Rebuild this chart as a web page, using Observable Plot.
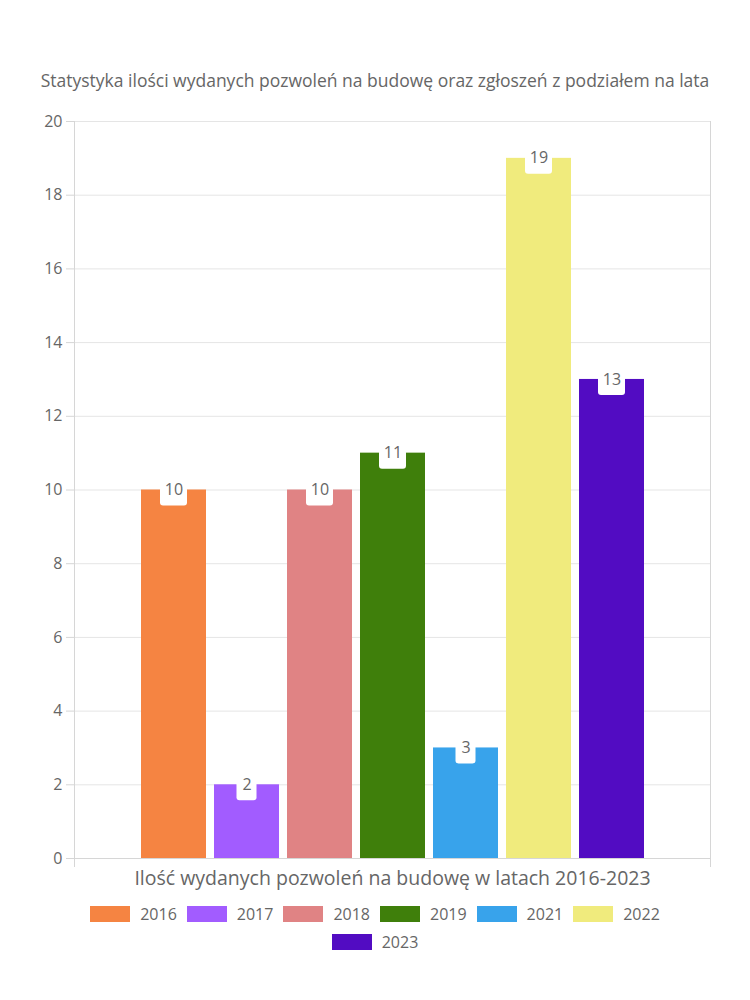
<!DOCTYPE html>
<html>
<head>
<meta charset="utf-8">
<script src="https://cdn.jsdelivr.net/npm/d3@7"></script>
<script src="https://cdn.jsdelivr.net/npm/@observablehq/plot@0.6"></script>
<style>
  body { margin: 0; background: #fff; font-family: "Open Sans", sans-serif; color: #666; }
  #wrap { width: 750px; }
  #title { height: 100px; box-sizing: border-box; padding-top: 68px; line-height: 24px; text-align: center; font-size: 17.5px; color: #666; white-space: nowrap; }
  #legend { width: 620px; margin: 0 auto; display: flex; flex-wrap: wrap; justify-content: center; font-size: 16px; }
  .item { display: flex; align-items: center; height: 28px; margin: 0 5px; }
  .sw { width: 40px; height: 16px; margin-right: 10px; }
  svg { display: block; }
</style>
</head>
<body>
<div id="wrap">
  <div id="title"></div>
  <div id="chart"></div>
  <div id="legend"></div>
</div>
<script>
const title = "Statystyka ilości wydanych pozwoleń na budowę oraz zgłoszeń z podziałem na lata";
const category = "Ilość wydanych pozwoleń na budowę w latach 2016-2023";
const years = ["2016", "2017", "2018", "2019", "2021", "2022", "2023"];
const values = [10, 2, 10, 11, 3, 19, 13];
const colors = ["#f58442", "#a25cff", "#e08384", "#3f7f0b", "#38a3eb", "#f0eb7d", "#520cc2"];
const yTicks = [0, 2, 4, 6, 8, 10, 12, 14, 16, 18, 20];

const data = years.map((y, i) => ({ category, year: y, value: values[i] }));

document.getElementById("title").textContent = title;

const font = "Open Sans, sans-serif";
const chart = Plot.plot({
  width: 750,
  height: 800,
  marginTop: 21,
  marginLeft: 74,
  marginRight: 40,
  marginBottom: 42,
  style: { fontFamily: font, fontSize: "16px", color: "#666", background: "#fff" },
  fx: { domain: [category], padding: 0, label: null },
  x: { domain: years, paddingInner: 0.11, paddingOuter: 0.91, axis: null },
  y: { domain: [0, 20], label: null },
  color: { domain: years, range: colors },
  marks: [
    Plot.gridY(yTicks, { stroke: "#e5e5e5", strokeOpacity: 1 }),
    Plot.frame({ anchor: "left", stroke: "#d6d6d6", insetBottom: -8 }),
    Plot.frame({ anchor: "right", stroke: "#d6d6d6", insetBottom: -8 }),
    Plot.axisY({ ticks: yTicks, tickSize: 8, tickPadding: 4, stroke: "#d6d6d6", fill: "#666", fontSize: 16, label: null }),
    Plot.axisFx({ anchor: "bottom", tickSize: 0, tickPadding: 13, fontSize: 19.5, fill: "#666", label: null }),
    Plot.barY(data, { fx: "category", x: "year", y: "value", fill: "year" }),
    Plot.ruleY([0], { stroke: "#d6d6d6" }),
    Plot.barY(data.filter(d => d.value >= 10), { fx: "category", x: "year", y1: "value", y2: "value", fill: "white", insetTop: -3, insetBottom: -16, insetLeft: 19, insetRight: 19, rx: 3 }),
    Plot.barY(data.filter(d => d.value < 10), { fx: "category", x: "year", y1: "value", y2: "value", fill: "white", insetTop: -3, insetBottom: -16, insetLeft: 22.5, insetRight: 22.5, rx: 3 }),
    Plot.text(data, { fx: "category", x: "year", y: "value", text: d => String(d.value), fill: "#666", fontSize: 16, lineAnchor: "middle" })
  ]
});
document.getElementById("chart").appendChild(chart);

const legend = document.getElementById("legend");
years.forEach((y, i) => {
  const item = document.createElement("div");
  item.className = "item";
  const sw = document.createElement("span");
  sw.className = "sw";
  sw.style.background = colors[i];
  const t = document.createElement("span");
  t.textContent = y;
  item.appendChild(sw);
  item.appendChild(t);
  legend.appendChild(item);
});
</script>
</body>
</html>
